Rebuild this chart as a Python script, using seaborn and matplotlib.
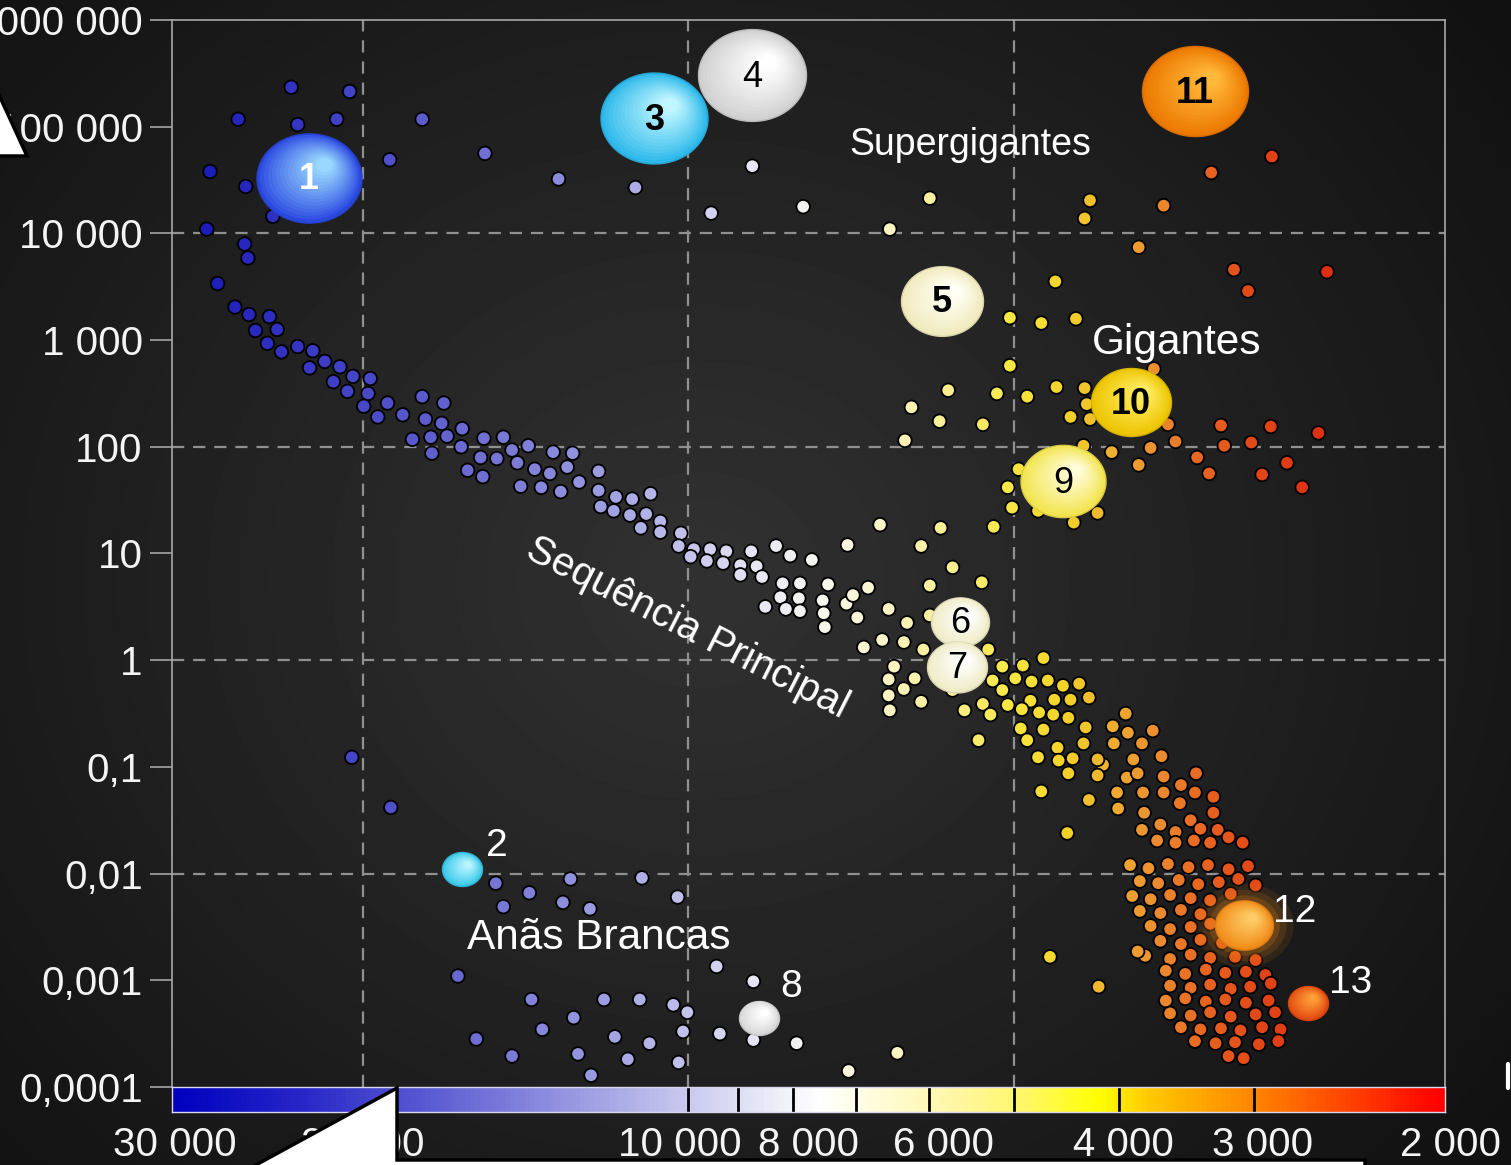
import numpy as np
import pandas as pd
import matplotlib
matplotlib.use("Agg")
import matplotlib.pyplot as plt
import seaborn as sns
from matplotlib.colors import LinearSegmentedColormap, to_rgb
from matplotlib.path import Path
from matplotlib.patches import Polygon
from matplotlib.lines import Line2D
from matplotlib.transforms import ScaledTranslation
from matplotlib.ticker import FixedLocator, FixedFormatter, NullLocator

# ------------------------------------------------------------------ data
# log10(temperature [K]) and log10(luminosity [L_sun])
supergiant_logT = [4.367, 4.313, 4.416, 4.361, 4.325, 4.246, 4.276, 4.188, 4.442, 4.409, 4.384,
                   4.120, 4.049, 3.979, 3.941, 3.894, 3.814, 3.777, 3.629, 3.634, 3.561, 3.517,
                   3.461, 3.584, 3.496, 3.483, 3.410, 3.661, 4.445, 4.410, 4.407, 4.435]
supergiant_logL = [5.37, 5.33, 5.07, 5.02, 5.07, 5.07, 4.69, 4.75, 4.58, 4.44, 4.16,
                   4.51, 4.43, 4.19, 4.63, 4.25, 4.04, 4.33, 4.31, 4.14, 4.26, 4.57,
                   4.72, 3.87, 3.66, 3.46, 3.64, 3.55, 4.04, 3.90, 3.77, 3.53]

ms_upper_logT = [4.419, 4.406, 4.387, 4.400, 4.380, 4.389, 4.376, 4.361, 4.347, 4.336, 4.350,
                 4.322, 4.310, 4.328, 4.294, 4.315, 4.296, 4.300, 4.278, 4.287, 4.264, 4.246,
                 4.226, 4.243, 4.228, 4.209, 4.255, 4.238, 4.223, 4.210, 4.237, 4.189, 4.171,
                 4.148, 4.163, 4.192, 4.177, 4.158, 4.142, 4.125, 4.107, 4.112, 4.128, 4.204,
                 4.190, 4.083, 4.101, 4.155, 4.136, 4.118, 4.083]
ms_upper_logL = [3.31, 3.24, 3.22, 3.09, 3.10, 2.97, 2.89, 2.94, 2.90, 2.80, 2.74,
                 2.75, 2.66, 2.61, 2.64, 2.52, 2.50, 2.38, 2.41, 2.28, 2.30, 2.47,
                 2.41, 2.26, 2.22, 2.17, 2.07, 2.09, 2.10, 2.00, 1.94, 2.08, 2.09,
                 2.01, 1.97, 1.90, 1.89, 1.85, 1.79, 1.95, 1.94, 1.81, 1.75, 1.78,
                 1.72, 1.77, 1.67, 1.63, 1.62, 1.58, 1.59]

ms_mid_logT = [4.067, 4.052, 4.035, 4.081, 4.069, 4.054, 4.039, 4.026, 4.044, 4.026, 4.007,
               4.009, 3.995, 3.980, 3.965, 3.942, 3.919, 3.906, 3.998, 3.983, 3.968, 3.952,
               3.937, 3.886, 3.853, 3.952, 3.932, 3.913, 3.897, 3.871, 3.834, 3.915, 3.898,
               3.876, 3.854, 3.929, 3.910, 3.897, 3.875, 3.844, 3.874]
ms_mid_logL = [1.53, 1.51, 1.56, 1.44, 1.40, 1.36, 1.37, 1.30, 1.24, 1.20, 1.19,
               1.07, 1.04, 1.04, 1.02, 1.02, 1.07, 0.98, 0.97, 0.93, 0.91, 0.89,
               0.88, 0.94, 1.08, 0.80, 0.78, 0.72, 0.72, 0.71, 0.68, 0.59, 0.58,
               0.56, 0.53, 0.50, 0.48, 0.46, 0.44, 0.40, 0.31]

ms_low_logT = [3.823, 3.767, 3.785, 3.718, 3.756, 3.777, 3.729, 3.848, 3.815, 3.798, 3.777,
               3.821, 3.801, 3.838, 3.783, 3.723, 3.672, 3.810, 3.815, 3.791, 3.801, 3.815,
               3.785, 3.814, 3.710, 3.691, 3.719, 3.698, 3.683, 3.668, 3.654, 3.639, 3.630,
               3.710, 3.684, 3.662, 3.647, 3.745, 3.728, 3.705, 3.721, 3.692, 3.676, 3.663,
               3.649, 3.756, 3.693, 3.672, 3.633, 3.687, 3.659, 3.677, 3.658, 3.645, 3.649,
               3.635, 3.732, 3.674, 3.630, 3.650]
ms_low_logL = [1.27, 1.24, 1.07, 1.25, 0.87, 0.70, 0.73, 0.61, 0.48, 0.35, 0.42,
               0.19, 0.17, 0.12, 0.10, 0.10, 0.02, -0.06, -0.18, -0.17, -0.27, -0.33,
               -0.39, -0.47, -0.06, -0.05, -0.19, -0.17, -0.20, -0.19, -0.24, -0.22, -0.35,
               -0.28, -0.38, -0.37, -0.37, -0.47, -0.41, -0.42, -0.51, -0.46, -0.49, -0.51,
               -0.54, -0.28, -0.64, -0.65, -0.63, -0.75, -0.82, -0.91, -0.94, -0.92, -1.06,
               -0.78, -0.75, -1.23, -1.31, -1.62]

ms_orange_logT = [3.596, 3.608, 3.594, 3.571, 3.607, 3.581, 3.617, 3.589, 3.563, 3.622, 3.595,
                  3.561, 3.531, 3.604, 3.580, 3.561, 3.545, 3.532, 3.515, 3.603, 3.579, 3.546,
                  3.536, 3.515, 3.581, 3.564, 3.550, 3.527, 3.511, 3.501, 3.488, 3.567, 3.550,
                  3.533, 3.518, 3.622, 3.585]
ms_orange_logL = [-0.50, -0.62, -0.68, -0.66, -0.78, -0.78, -0.98, -0.93, -0.90, -1.08, -1.10,
                  -1.09, -1.06, -1.24, -1.24, -1.24, -1.17, -1.24, -1.28, -1.39, -1.43, -1.34,
                  -1.50, -1.43, -1.59, -1.54, -1.61, -1.58, -1.59, -1.66, -1.71, -1.69, -1.71,
                  -1.69, -1.71, -0.93, -1.06]

ms_red_logT = [3.592, 3.575, 3.557, 3.538, 3.520, 3.501, 3.483,
               3.583, 3.566, 3.547, 3.529, 3.510, 3.492, 3.476,
               3.590, 3.573, 3.555, 3.536, 3.518, 3.499,
               3.583, 3.564, 3.545, 3.527,
               3.573, 3.555, 3.536, 3.518,
               3.564, 3.545, 3.527, 3.507,
               3.578, 3.555, 3.536, 3.518, 3.495, 3.476,
               3.559, 3.541, 3.522, 3.504, 3.485, 3.467,
               3.555, 3.536, 3.518, 3.499, 3.481, 3.462,
               3.559, 3.541, 3.522, 3.504, 3.485, 3.464,
               3.555, 3.536, 3.518, 3.499, 3.476, 3.458,
               3.545, 3.527, 3.508, 3.490, 3.470, 3.453,
               3.532, 3.513, 3.495, 3.473, 3.455,
               3.501, 3.487,
               3.666, 3.621, 3.585]
ms_red_logL = [-1.92, -1.95, -1.91, -1.94, -1.92, -1.96, -1.93,
               -2.07, -2.09, -2.06, -2.10, -2.08, -2.05, -2.11,
               -2.21, -2.24, -2.20, -2.23, -2.25, -2.19,
               -2.35, -2.37, -2.34, -2.38,
               -2.49, -2.52, -2.50, -2.47,
               -2.63, -2.66, -2.62, -2.65,
               -2.77, -2.80, -2.76, -2.79, -2.78, -2.81,
               -2.91, -2.94, -2.90, -2.93, -2.92, -2.95,
               -3.05, -3.07, -3.04, -3.08, -3.06, -3.03,
               -3.19, -3.17, -3.20, -3.18, -3.21, -3.19,
               -3.31, -3.33, -3.30, -3.34, -3.32, -3.30,
               -3.44, -3.46, -3.45, -3.47, -3.44, -3.46,
               -3.57, -3.59, -3.58, -3.60, -3.57,
               -3.71, -3.73,
               -2.78, -3.06, -2.73]

giant_logT = [3.703, 3.674, 3.642, 3.703, 3.660, 3.687, 3.634, 3.632, 3.647, 3.629, 3.570,
              3.557, 3.508, 3.462, 3.418, 3.550, 3.505, 3.480, 3.573, 3.609, 3.635, 3.530,
              3.584, 3.447, 3.519, 3.470, 3.433, 3.695, 3.705, 3.701, 3.677, 3.644, 3.622,
              3.760, 3.794, 3.768, 3.800, 3.728, 3.715]
giant_logL = [3.21, 3.16, 3.20, 2.76, 2.56, 2.47, 2.55, 2.40, 2.28, 2.26, 2.73,
              2.21, 2.20, 2.19, 2.13, 2.05, 2.01, 2.04, 1.99, 1.95, 2.01, 1.90,
              1.83, 1.85, 1.75, 1.74, 1.62, 1.79, 1.62, 1.43, 1.40, 1.29, 1.38,
              2.53, 2.37, 2.24, 2.06, 2.21, 2.50]

wd_logT = [4.311, 4.275, 4.178, 4.147, 4.171, 4.116, 4.109, 4.091, 4.043, 4.010, 4.213,
           3.974, 3.940, 4.145, 4.078, 4.045, 4.014, 4.001, 4.106, 4.135, 4.196, 4.068,
           4.036, 4.005, 3.971, 3.940, 3.900, 4.163, 4.102, 4.056, 4.009, 4.090, 3.852, 3.807]
wd_logL = [-0.91, -1.38, -2.09, -2.18, -2.31, -2.27, -2.05, -2.33, -2.04, -2.22, -2.96,
           -2.87, -3.01, -3.18, -3.18, -3.18, -3.23, -3.30, -3.35, -3.46, -3.55, -3.53,
           -3.59, -3.48, -3.50, -3.56, -3.59, -3.71, -3.69, -3.74, -3.77, -3.89, -3.85, -3.68]

named_labels = ["1", "2", "3", "4", "5", "6", "7", "8", "9", "10", "11", "12", "13"]
named_logT = [4.351, 4.209, 4.032, 3.941, 3.766, 3.749, 3.752, 3.935, 3.654, 3.591, 3.532, 3.487, 3.428]
named_logL = [4.52, -1.96, 5.08, 5.48, 3.37, 0.36, -0.06, -3.35, 1.68, 2.42, 5.33, -2.48, -3.21]

temp_ticks = [30000, 20000, 10000, 8000, 6000, 4000, 3000, 2000]
temp_tick_labels = ["30 000", "20 000", "10 000", "8 000", "6 000", "4 000", "3 000", "2 000"]
bar_dividers = [10000, 9000, 8000, 7000, 6000, 5000, 4000, 3000]
lum_ticks = [1e-4, 1e-3, 1e-2, 1e-1, 1, 10, 100, 1e3, 1e4, 1e5, 1e6]
lum_tick_labels = ["0,0001", "0,001", "0,01", "0,1", "1", "10", "100", "1 000",
                   "10 000", "100 000", "1 000 000"]
grid_lum = [1e-2, 1, 1e2, 1e4]
grid_temp = [20000, 10000, 5000]
region_labels = ["Supergigantes", "Gigantes", "Sequência Principal", "Anãs Brancas"]

# ------------------------------------------------------------------ styles
LO, HI = np.log10(2000), np.log10(30000)

def make_cmap(name, nodes, colors):
    pos = [(n - LO) / (HI - LO) for n in nodes]
    return LinearSegmentedColormap.from_list(name, list(zip(pos, colors)))

bar_cmap = make_cmap("bar",
    [LO, 3.470, 3.573, 3.619, 3.684, 3.749, 3.823, 3.878, 3.934, 4.000, 4.081, 4.174, 4.266, 4.359, HI],
    ["#ff0000", "#ff8000", "#ffc800", "#ffff00", "#fff860", "#fff6a0", "#fffbd8", "#ffffff",
     "#e6e6f6", "#cacaf0", "#a4a4e4", "#7878da", "#5050d0", "#2626c8", "#0000c0"])
dot_cmap = make_cmap("dots",
    [LO, 3.40, 3.48, 3.53, 3.57, 3.61, 3.65, 3.70, 3.76, 3.82, 3.88, 3.94, 4.00, 4.10, 4.20, 4.30, 4.40, HI],
    ["#d41010", "#dc2a12", "#e24a18", "#e86a22", "#ec9030", "#eeb030", "#f2d228", "#f6e640",
     "#f9ee90", "#faf4c8", "#f6f6f0", "#e6e6f4", "#c4c4ec", "#9494de", "#6c6cd2", "#4848c8",
     "#2a2ac0", "#1414b4"])

star_width_px = [105, 40, 107, 108, 82, 58, 60, 40, 85, 80, 106, 58, 40]
star_edge = ["#2a48e0", "#38c8ea", "#2cb8ea", "#d0d0d0", "#f0eabc", "#efebc6", "#efebc6",
             "#d8d8d8", "#f2e44c", "#ecc400", "#ec7800", "#f08a18", "#e44a10"]
star_center = ["#9ad8ff", "#b8f6ff", "#c0f6ff", "#ffffff", "#fffff6", "#ffffff", "#ffffff",
               "#ffffff", "#fffcd8", "#ffec60", "#ffb838", "#ffcc66", "#ffa038"]
inside = [True, False, True, True, True, True, True, False, True, True, True, False, False]
in_color = ["white", None, "black", "black", "black", "black", "black", None,
            "black", "black", "black", None, None]
in_weight = ["bold", None, "bold", "normal", "bold", "normal", "normal", None,
             "normal", "bold", "bold", None, None]
out_offset = {1: (25, 17), 7: (23, 22), 11: (37, 9), 12: (31, 14)}
xlabel_shift_px = [3, 0, -9, 15, 15, 4, 8, 5]

sns.set_style("dark")
plt.rcParams['font.family'] = ['Liberation Sans', 'DejaVu Sans']

W, H = 1511, 1165
fig = plt.figure(figsize=(W / 100, H / 100), dpi=100)
fig.patch.set_facecolor('#141414')

# background radial gradient
bg = fig.add_axes([0, 0, 1, 1], zorder=-10)
yy, xx = np.mgrid[0:H, 0:W]
r = np.hypot((xx - 700) / 950.0, (yy - 580) / 850.0)
val = np.clip(0.195 - 0.12 * r, 0.07, 0.2)
bg.imshow(val, cmap='gray', vmin=0, vmax=1, extent=[0, 1, 0, 1], aspect='auto',
          origin='upper', interpolation='bilinear')
bg.axis('off')

ax = fig.add_axes([172 / W, 1 - 1087 / H, (1445 - 172) / W, (1087 - 20) / H])
ax.set_facecolor('none')

groups = [("supergiant", supergiant_logT, supergiant_logL),
          ("ms", ms_upper_logT, ms_upper_logL),
          ("ms", ms_mid_logT, ms_mid_logL),
          ("ms", ms_low_logT, ms_low_logL),
          ("ms", ms_orange_logT, ms_orange_logL),
          ("ms", ms_red_logT, ms_red_logL),
          ("giant", giant_logT, giant_logL),
          ("wd", wd_logT, wd_logL)]
frames = []
for g, lt, ll in groups:
    frames.append(pd.DataFrame({"group": g, "logT": lt, "logL": ll}))
df = pd.concat(frames, ignore_index=True)
df["T"] = 10 ** df["logT"]
df["L"] = 10 ** df["logL"]

sns.scatterplot(data=df, x="T", y="L", hue="logT", palette=dot_cmap, hue_norm=(LO, HI),
                s=95, edgecolor="black", linewidth=1.3, legend=False, ax=ax, zorder=3)

ax.set_xscale('log')
ax.set_yscale('log')
ax.set_xlim(30000, 2000)
ax.set_ylim(1e-4, 1e6)
ax.set_xlabel("")
ax.set_ylabel("")
ax.grid(False)

for v in grid_lum:
    ax.axhline(v, color='#909090', lw=1.6, ls=(0, (5.5, 4.0)), zorder=1)
for t in grid_temp:
    ax.axvline(t, color='#909090', lw=1.6, ls=(0, (5.5, 4.0)), zorder=1)

ax.yaxis.set_major_locator(FixedLocator(lum_ticks))
ax.yaxis.set_major_formatter(FixedFormatter(lum_tick_labels))
ax.yaxis.set_minor_locator(NullLocator())
ax.xaxis.set_major_locator(NullLocator())
ax.xaxis.set_minor_locator(NullLocator())
ax.tick_params(axis='y', which='major', colors='#9a9a9a', length=16, width=1.3, pad=5,
               labelsize=29, labelcolor='#f4f4f4', left=True)
ax.tick_params(axis='x', which='both', bottom=False, labelbottom=False)
for side in ['left', 'top', 'right']:
    ax.spines[side].set_color('#a8a8a8')
    ax.spines[side].set_linewidth(1.2)
    ax.spines[side].set_visible(True)
ax.spines['bottom'].set_visible(False)

# named stars drawn as shaded ellipses, highlight towards the upper right
theta = np.linspace(0, 2 * np.pi, 120)
ell_path = Path(np.column_stack([np.cos(theta), 0.85 * np.sin(theta)]))
for i, lab in enumerate(named_labels):
    T = 10 ** named_logT[i]
    L = 10 ** named_logL[i]
    w = star_width_px[i] * 0.72
    e = np.array(to_rgb(star_edge[i]))
    c = np.array(to_rgb(star_center[i]))
    if lab == "12":
        for gf, ga in [(1.7, 0.10), (1.45, 0.14), (1.22, 0.2)]:
            ax.scatter([T], [L], s=(w * gf) ** 2, marker=ell_path, color=[e], alpha=ga,
                       linewidths=0, zorder=9)
    n = 16
    for k in range(n):
        frac = k / n
        f = 1 - 0.9 * frac
        tt = (k / (n - 1)) ** 0.9
        col = e + (c - e) * tt
        sc = ax.scatter([T], [L], s=(w * f) ** 2, marker=ell_path, color=[col],
                        linewidths=(1.0 if k == 0 else 0),
                        edgecolors=[np.clip(e * 0.9, 0, 1)] if k == 0 else 'none', zorder=10)
        dx = 0.16 * w * frac / 72.0
        dy = 0.13 * w * frac / 72.0
        sc.set_offset_transform(ax.transData + ScaledTranslation(dx, dy, fig.dpi_scale_trans))
    if inside[i]:
        ax.annotate(lab, (T, L), xytext=(0, -1.5), textcoords='offset points',
                    ha='center', va='center', fontsize=26, color=in_color[i],
                    fontweight=in_weight[i], zorder=30)
    else:
        ax.annotate(lab, (T, L), xytext=out_offset[i], textcoords='offset points',
                    ha='center', va='center', fontsize=28, color='white', zorder=30)

# region labels
ax.text(0.627, 0.883, region_labels[0], transform=ax.transAxes, ha='center', va='center',
        fontsize=27, color='white', zorder=25)
ax.text(0.789, 0.697, region_labels[1], transform=ax.transAxes, ha='center', va='center',
        fontsize=30.5, color='white', zorder=25)
ax.text(0.405, 0.430, region_labels[2], transform=ax.transAxes, ha='center', va='center',
        fontsize=29, color='white', rotation=-27, rotation_mode='anchor', zorder=25)
ax.text(0.335, 0.140, region_labels[3], transform=ax.transAxes, ha='center', va='center',
        fontsize=30.5, color='white', zorder=25)

# colour bar of temperature
cax = fig.add_axes([172 / W, 1 - 1112 / H, (1445 - 172) / W, 25 / H])
tb = np.logspace(LO, HI, 900)
cvals = 0.5 * (np.log10(tb[:-1]) + np.log10(tb[1:]))
cax.pcolormesh(tb, [0, 1], cvals[None, :], cmap=bar_cmap, vmin=LO, vmax=HI, shading='flat')
cax.set_xscale('log')
cax.set_xlim(30000, 2000)
cax.set_ylim(0, 1)
for t in bar_dividers:
    cax.axvline(t, color='black', lw=2.0)
cax.xaxis.set_major_locator(FixedLocator(temp_ticks))
cax.xaxis.set_major_formatter(FixedFormatter(temp_tick_labels))
cax.xaxis.set_minor_locator(NullLocator())
cax.yaxis.set_major_locator(NullLocator())
cax.yaxis.set_minor_locator(NullLocator())
cax.tick_params(axis='x', length=0, pad=10, labelsize=29, labelcolor='#f4f4f4')
for side in cax.spines:
    cax.spines[side].set_color('#d8d8ec')
    cax.spines[side].set_linewidth(1.0)
fig.canvas.draw()
for tick, dx in zip(cax.xaxis.get_major_ticks(), xlabel_shift_px):
    tick.label1.set_transform(tick.label1.get_transform() +
                              ScaledTranslation(dx / 100.0, 0, fig.dpi_scale_trans))

# white overlay shapes present in the picture
def fp(x, y):
    return (x / W, 1 - y / H)

fig.add_artist(Polygon([fp(-6, 84), fp(27, 156), fp(-6, 156)], closed=True,
                       transform=fig.transFigure, facecolor='white', edgecolor='black',
                       lw=2.5, zorder=50))
fig.add_artist(Polygon([fp(243, 1172), fp(397, 1088), fp(397, 1160), fp(1365, 1160),
                        fp(1365, 1172)], closed=True, transform=fig.transFigure,
                       facecolor='white', edgecolor='black', lw=2.5, zorder=50))
fig.add_artist(Line2D([1508 / W, 1508 / W], [1 - 1064 / H, 1 - 1088 / H],
                      transform=fig.transFigure, color='white', lw=3, zorder=50))

fig.savefig("out.png", dpi=100, facecolor=fig.get_facecolor())
